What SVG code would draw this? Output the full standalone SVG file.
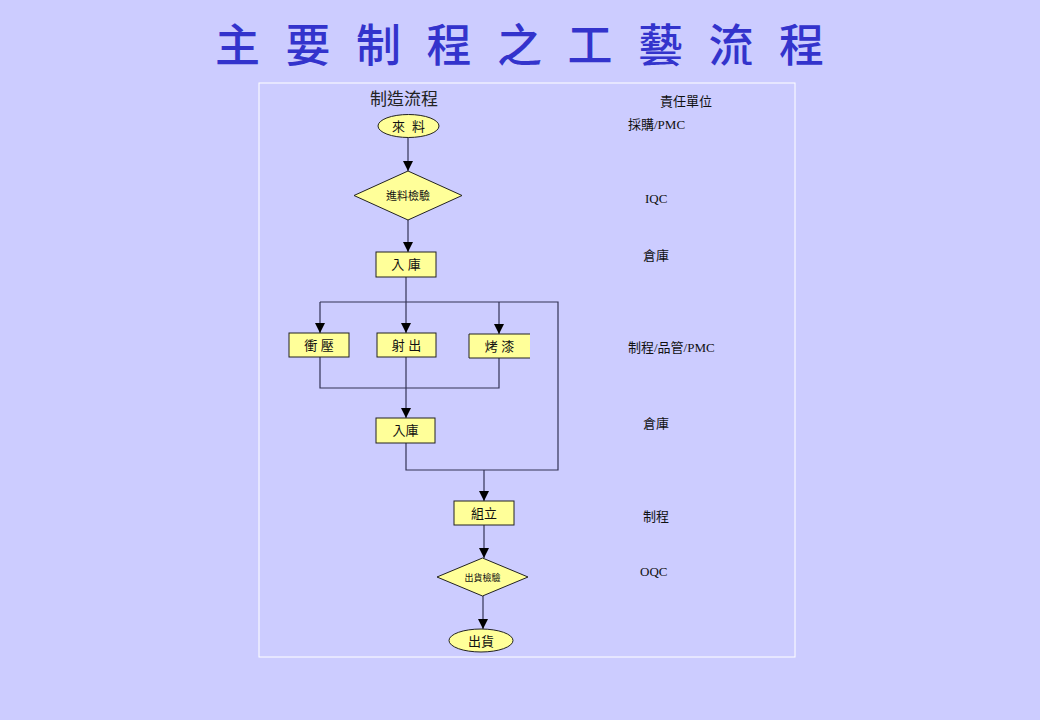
<svg xmlns="http://www.w3.org/2000/svg" width="1040" height="720" viewBox="0 0 1040 720">
<defs>
<marker id="arr" markerUnits="userSpaceOnUse" markerWidth="10" markerHeight="10" refX="10" refY="5" orient="auto">
<path d="M0,0 L10,5 L0,10 z" fill="#000"/>
</marker>
<style>
.title{font-family:"Noto Sans CJK TC","Noto Sans CJK SC",sans-serif;font-size:45px;font-weight:500;fill:#3333CC;letter-spacing:25.5px}
.node{fill:#FFFF99;stroke:#222;stroke-width:1}
.nt{font-family:"Liberation Sans","Noto Sans CJK TC",sans-serif;font-size:13px;fill:#111;text-anchor:middle}
.rt{font-family:"Liberation Serif","Noto Sans CJK TC",serif;font-size:13px;fill:#111}
.ln{fill:none;stroke:#333355;stroke-width:1.2}
</style>
</defs>
<rect width="1040" height="720" fill="#CCCCFF"/>
<text class="title" x="215" y="62">主要制程之工藝流程</text>
<rect x="259" y="83" width="536" height="574" fill="none" stroke="#FFFFFF" stroke-width="1"/>
<text x="404" y="105" text-anchor="middle" style="font-family:'Noto Sans CJK TC',sans-serif;font-size:17px;fill:#222">制造流程</text>
<g id="labels">
<text class="rt" x="660" y="106">責任單位</text>
<text class="rt" x="628" y="129">採購/PMC</text>
<text class="rt" x="645" y="203">IQC</text>
<text class="rt" x="643" y="260">倉庫</text>
<text class="rt" x="628" y="352">制程/品管/PMC</text>
<text class="rt" x="643" y="428">倉庫</text>
<text class="rt" x="643" y="521">制程</text>
<text class="rt" x="640" y="576">OQC</text>
</g>
<g id="connectors">
<path class="ln" d="M408,137 V171" marker-end="url(#arr)"/>
<path class="ln" d="M408,220 V252" marker-end="url(#arr)"/>
<path class="ln" d="M406,277 V302"/>
<path class="ln" d="M320,302 H558 V470 H406 V443"/>
<path class="ln" d="M320,302 V333" marker-end="url(#arr)"/>
<path class="ln" d="M406,302 V333" marker-end="url(#arr)"/>
<path class="ln" d="M499,302 V334" marker-end="url(#arr)"/>
<path class="ln" d="M320,357 V388 H499 V358"/>
<path class="ln" d="M406,357 V418" marker-end="url(#arr)"/>
<path class="ln" d="M484,470 V501" marker-end="url(#arr)"/>
<path class="ln" d="M484,525 V558" marker-end="url(#arr)"/>
<path class="ln" d="M483,596 V629" marker-end="url(#arr)"/>
</g>
<g id="n-laiiao">
<ellipse class="node" cx="408.5" cy="126" rx="30.5" ry="11.5"/>
<text class="nt" x="408.5" y="131" xml:space="preserve">來  料</text>
</g>
<g id="n-iqc">
<polygon class="node" points="408,171 462,195.5 408,220 354,195.5"/>
<text class="nt" x="408" y="199.5" style="font-size:11px">進料檢驗</text>
</g>
<g id="n-ruku1">
<rect class="node" x="376" y="252" width="60" height="25"/>
<text class="nt" x="406" y="269">入 庫</text>
</g>
<g id="n-chongya">
<rect class="node" x="289" y="333" width="60" height="24"/>
<text class="nt" x="319" y="350">衝 壓</text>
</g>
<g id="n-sheshu">
<rect class="node" x="377" y="333" width="59" height="24"/>
<text class="nt" x="406.5" y="350">射 出</text>
</g>
<g id="n-kaoqi">
<rect x="469" y="334" width="61" height="24" fill="#FFFF99"/>
<path d="M530,334 H469 V358 H530" fill="none" stroke="#222" stroke-width="1"/>
<text class="nt" x="499.5" y="351">烤 漆</text>
</g>
<g id="n-ruku2">
<rect class="node" x="376" y="418" width="59" height="25"/>
<text class="nt" x="405.5" y="435">入庫</text>
</g>
<g id="n-zuli">
<rect class="node" x="454" y="501" width="60" height="24"/>
<text class="nt" x="484" y="518">組立</text>
</g>
<g id="n-oqc">
<polygon class="node" points="482.5,558 528,577 482.5,596 437,577"/>
<text class="nt" x="482.5" y="580.5" style="font-size:9px">出貨檢驗</text>
</g>
<g id="n-chuhuo">
<ellipse class="node" cx="481" cy="640.5" rx="32" ry="11.5"/>
<text class="nt" x="481" y="645.5">出貨</text>
</g>
</svg>
